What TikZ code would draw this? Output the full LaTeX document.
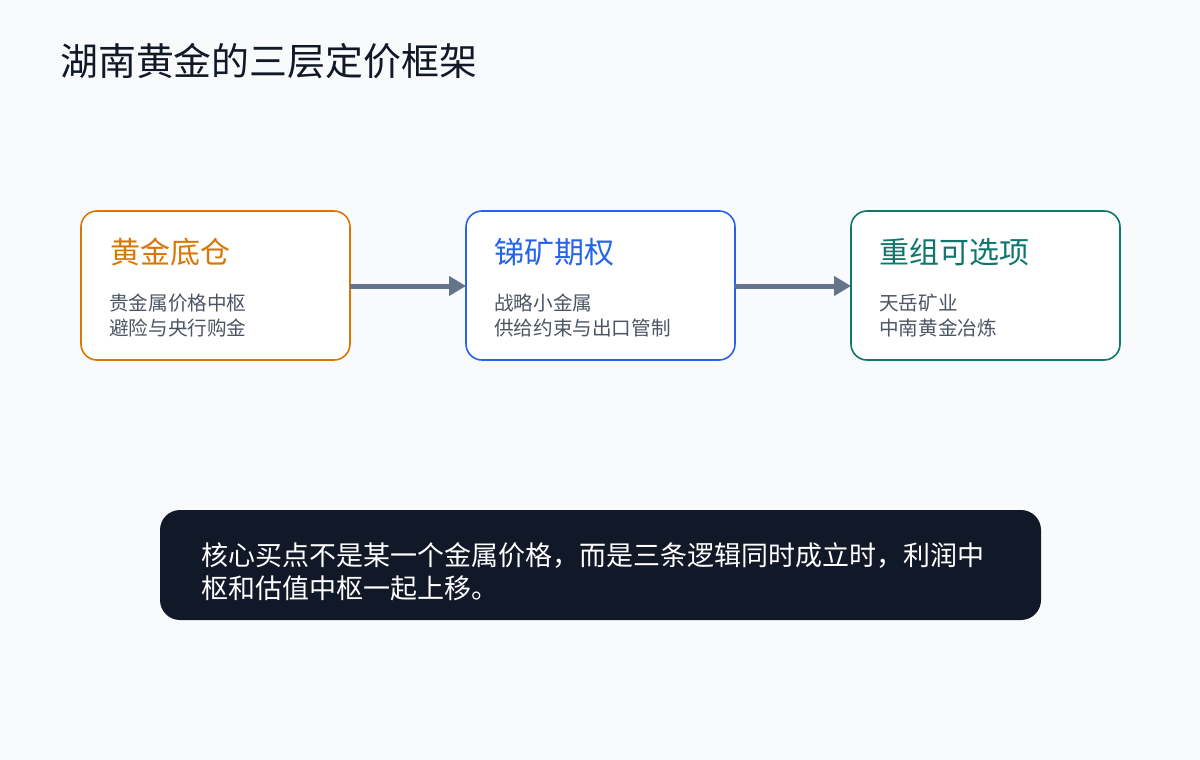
\documentclass[tikz,border=0pt]{standalone}
\usepackage{fontspec}
\setmainfont{Noto Sans CJK SC}
\usetikzlibrary{arrows.meta}
\definecolor{bg}{HTML}{F8FAFC}
\definecolor{ink}{HTML}{111827}
\definecolor{body}{HTML}{4B5563}
\definecolor{corange}{HTML}{D97706}
\definecolor{cblue}{HTML}{2563EB}
\definecolor{cteal}{HTML}{0F766E}
\definecolor{arrowc}{HTML}{64748B}
\tikzset{
  card/.style={draw=#1, line width=1.6pt, fill=white, rounded corners=16pt},
  cardtitle/.style={anchor=base west, inner sep=0pt, text=#1, font=\fontsize{30}{34}\selectfont},
  cardbody/.style={anchor=base west, inner sep=0pt, text=body, font=\fontsize{19.6}{24}\selectfont},
  flow/.style={draw=arrowc, line width=5pt, -{Triangle[length=17pt,width=19pt]}},
  note/.style={anchor=base west, inner sep=0pt, text=white, font=\fontsize{27}{33}\selectfont},
}
\begin{document}
\begin{tikzpicture}[x=1pt,y=-1pt]
\useasboundingbox (0,0) rectangle (1200,760);
\fill[bg] (0,0) rectangle (1200,760);
\node[anchor=base west, inner sep=0pt, text=ink, font=\fontsize{37.9}{42}\selectfont] (title) at (60,76) {湖南黄金的三层定价框架};

% cards
\draw[card=corange] (81,211) rectangle (350,360);
\draw[card=cblue] (466,211) rectangle (735,360);
\draw[card=cteal] (851,211) rectangle (1120,360);
\coordinate (c1e) at (350,286);
\coordinate (c2w) at (466,286);
\coordinate (c2e) at (735,286);
\coordinate (c3w) at (851,286);

\node[cardtitle=corange] (t1) at (110,263) {黄金底仓};
\node[cardbody] (b1a) at (109,310.5) {贵金属价格中枢};
\node[cardbody] (b1b) at (109,335.5) {避险与央行购金};

\node[cardtitle=cblue] (t2) at (494,263) {锑矿期权};
\node[cardbody] (b2a) at (494,310.5) {战略小金属};
\node[cardbody] (b2b) at (494,335.5) {供给约束与出口管制};

\node[cardtitle=cteal] (t3) at (879,263) {重组可选项};
\node[cardbody] (b3a) at (879,310.5) {天岳矿业};
\node[cardbody] (b3b) at (879,335.5) {中南黄金冶炼};

\draw[flow] (c1e) -- (c2w);
\draw[flow] (c2e) -- (c3w);

% bottom
\fill[ink, rounded corners=20pt] (160,510) rectangle (1041,620);
\node[note] (n1) at (201,565.5) {核心买点不是某一个金属价格，而是三条逻辑同时成立时，利润中};
\node[note] (n2) at (201,598.5) {枢和估值中枢一起上移。};
\end{tikzpicture}
\end{document}
